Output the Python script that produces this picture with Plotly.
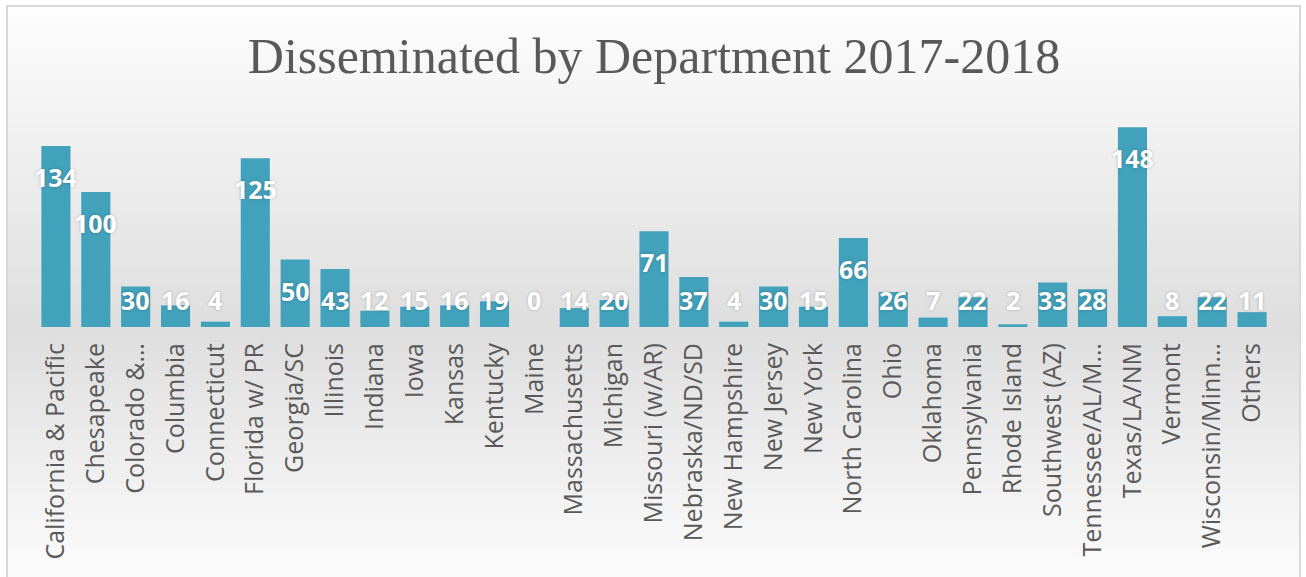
import plotly.graph_objects as go

categories = [
    "California & Pacific", "Chesapeake", "Colorado &…", "Columbia", "Connecticut",
    "Florida w/ PR", "Georgia/SC", "Illinois", "Indiana", "Iowa", "Kansas",
    "Kentucky", "Maine", "Massachusetts", "Michigan", "Missouri (w/AR)",
    "Nebraska/ND/SD", "New Hampshire", "New Jersey", "New York", "North Carolina",
    "Ohio", "Oklahoma", "Pennsylvania", "Rhode Island", "Southwest (AZ)",
    "Tennessee/AL/M…", "Texas/LA/NM", "Vermont", "Wisconsin/Minn…", "Others",
]
values = [134, 100, 30, 16, 4, 125, 50, 43, 12, 15, 16, 19, 0, 14, 20, 71,
          37, 4, 30, 15, 66, 26, 7, 22, 2, 33, 28, 148, 8, 22, 11]

title_text = "Disseminated by Department 2017-2018"

W, H = 1306, 577
ML, MR, MT, MB = 36, 34, 111, 250
plot_w = W - ML - MR
plot_h = H - MT - MB
Y_MAX = 160
LABEL_FLOOR = 43


def px_to_paper_x(px):
    return (px - ML) / plot_w


def px_to_paper_y(py):
    return (H - MB - py) / plot_h


def bg_level(py):
    if py <= 330:
        return 253 - 31 * (py - 6) / 324
    return 222 + 28 * min(1.0, (py - 330) / 230)


shapes = []
top, bottom = 6, H
n = 80
step = (bottom - top) / n
for i in range(n):
    y0 = top + i * step
    y1 = y0 + step + 0.6
    lv = int(round(bg_level(y0 + step / 2)))
    shapes.append(dict(
        type="rect", layer="below", xref="paper", yref="paper",
        x0=px_to_paper_x(8), x1=px_to_paper_x(1300),
        y0=px_to_paper_y(y1), y1=px_to_paper_y(y0),
        line=dict(width=0), fillcolor=f"rgb({lv},{lv},{lv})",
    ))
# frame
shapes.append(dict(
    type="rect", layer="below", xref="paper", yref="paper",
    x0=px_to_paper_x(7), x1=px_to_paper_x(1300),
    y0=px_to_paper_y(H + 5), y1=px_to_paper_y(6),
    line=dict(width=2, color="#D9D9D9"), fillcolor="rgba(0,0,0,0)",
))

annotations = []
for c, v in zip(categories, values):
    annotations.append(dict(
        x=c, y=max(v, LABEL_FLOOR), xref="x", yref="y", yshift=-31,
        text=str(v), showarrow=False, yanchor="middle",
        font=dict(family="Open Sans", size=25, color="white", weight="bold",
                  shadow="0px 0px 3px rgba(0,0,0,0.25)"),
    ))

fig = go.Figure(go.Bar(
    x=categories, y=values,
    marker=dict(color="#42A1BB", line=dict(width=0)),
    hoverinfo="x+y",
))

fig.update_layout(
    width=W, height=H,
    margin=dict(l=ML, r=MR, t=MT, b=MB),
    paper_bgcolor="white",
    plot_bgcolor="rgba(0,0,0,0)",
    bargap=0.27,
    showlegend=False,
    shapes=shapes,
    annotations=annotations,
    title=dict(
        text=title_text, x=0.5, xref="paper", xanchor="center",
        y=1 - 55 / H, yanchor="middle", yref="container",
        font=dict(family="Liberation Serif", size=50, color="#595959"),
    ),
    xaxis=dict(
        type="category", tickangle=-90, showgrid=False, zeroline=False,
        showline=False, ticks="", ticklabelstandoff=10,
        tickfont=dict(family="Open Sans", size=25, color="#595959"),
        range=[-0.5, len(categories) - 0.5],
    ),
    yaxis=dict(range=[0, Y_MAX], visible=False, showgrid=False, zeroline=False),
)

fig.write_html("out.html", config={"displayModeBar": False},
               post_script="document.body.style.margin='0';")
